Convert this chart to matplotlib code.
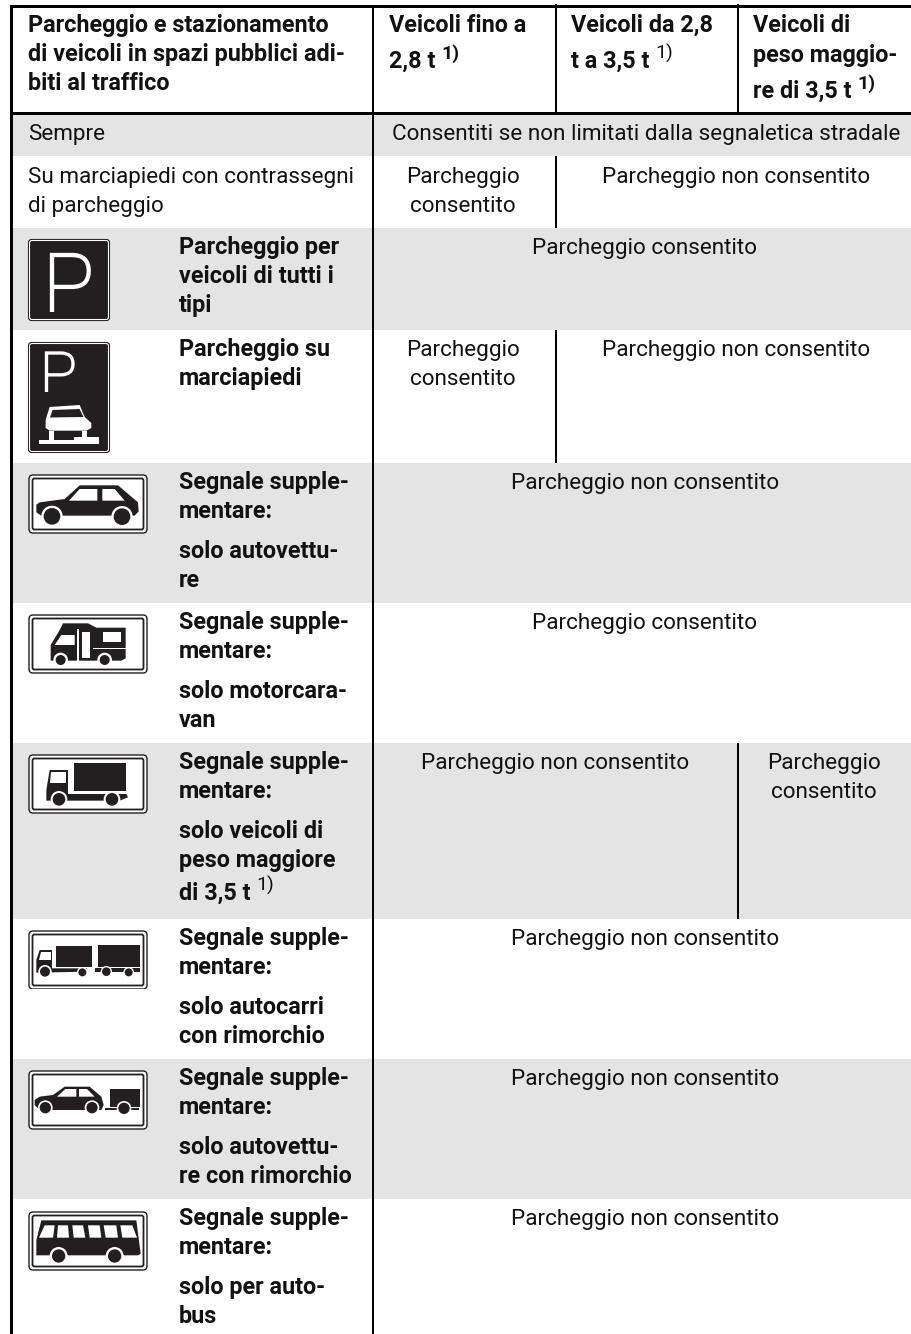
import matplotlib
matplotlib.use("Agg")
import matplotlib.pyplot as plt
from matplotlib.patches import Rectangle, Polygon, Circle, FancyBboxPatch
from matplotlib.path import Path
from matplotlib.patches import PathPatch

plt.rcParams['font.family'] = ['Roboto', 'DejaVu Sans']

BLACK = '#111111'
SIGN = '#231f20'
GREY = '#e4e4e4'
FS = 16.2
FS_BOLD = 16.8
LEAD = 29

# table text
header_main = ["Parcheggio e stazionamento", "di veicoli in spazi pubblici adi-", "biti al traffico"]
header_cols = [["Veicoli fino a", "2,8 t"], ["Veicoli da 2,8", "t a 3,5 t"], ["Veicoli di", "peso maggio-", "re di 3,5 t"]]
header_base = [[32, 68], [32, 68], [32, 62, 98]]
header_sup_bold = [True, False, True]
row_labels = [
    ["Parcheggio per", "veicoli di tutti i", "tipi"],
    ["Parcheggio su", "marciapiedi"],
    ["Segnale supple-", "mentare:", None, "solo autovettu-", "re"],
    ["Segnale supple-", "mentare:", None, "solo motorcara-", "van"],
    ["Segnale supple-", "mentare:", None, "solo veicoli di", "peso maggiore", "di 3,5 t"],
    ["Segnale supple-", "mentare:", None, "solo autocarri", "con rimorchio"],
    ["Segnale supple-", "mentare:", None, "solo autovettu-", "re con rimorchio"],
    ["Segnale supple-", "mentare:", None, "solo per auto-", "bus"],
]
allowed = "Parcheggio consentito"
allowed_2 = ["Parcheggio", "consentito"]
denied = "Parcheggio non consentito"
always_label = "Sempre"
always_text = "Consentiti se non limitati dalla segnaletica stradale"
pavement_label = ["Su marciapiedi con contrassegni", "di parcheggio"]

# row edges in pixels, top to bottom
row_edges = [115, 156, 228, 330, 463, 603, 743, 919, 1059, 1199, 1334]
grey_rows = [0, 2, 4, 6, 8]

fig = plt.figure(figsize=(9.12, 13.34), dpi=100)
ax = fig.add_axes([0, 0, 1, 1])
ax.set_xlim(0, 912)
ax.set_ylim(1334, 0)
ax.axis('off')


def put(x, y, s, bold=False, ha='left', size=None):
    if size is None:
        size = FS_BOLD if bold else FS
    return ax.text(x, y, s, fontsize=size, color=BLACK, ha=ha, va='baseline',
                   fontweight='bold' if bold else 'normal')


def lines(x, y, items, bold=False, ha='left'):
    for i, s in enumerate(items):
        put(x, y + i * LEAD, s, bold=bold, ha=ha)


def sup(t, y, bold):
    # puts the footnote mark right after the text t
    box = t.get_window_extent(fig.canvas.get_renderer())
    x = ax.transData.inverted().transform((box.x1, 0))[0]
    put(x + 6, y - 9, "1)", bold=bold, size=14)


def sign_frame(ox, oy):
    ax.add_patch(FancyBboxPatch((ox + 1, oy + 1), 118, 58, boxstyle="round,pad=0,rounding_size=4",
                                fc='white', ec=SIGN, lw=1.0, zorder=3))
    ax.add_patch(FancyBboxPatch((ox + 4.5, oy + 4.5), 111, 51, boxstyle="round,pad=0,rounding_size=2",
                                fc='white', ec=SIGN, lw=1.3, zorder=3))


def draw(ox, oy, org, black=(), white=(), wheels=()):
    # shapes are noted at 3x scale from org, the sign's top left corner
    def conv(p):
        return [(ox + (a - org[0]) / 3, oy + (b - org[1]) / 3) for a, b in p]
    for p in black:
        ax.add_patch(Polygon(conv(p), fc=SIGN, ec='none', zorder=4))
    for p in white:
        ax.add_patch(Polygon(conv(p), fc='white', ec='none', zorder=5))
    for a, b, r, halo in wheels:
        c = conv([(a, b)])[0]
        ax.add_patch(Circle(c, halo / 3, fc='white', ec='none', zorder=6))
        ax.add_patch(Circle(c, r / 3, fc=SIGN, ec='none', zorder=7))


def p_letter(x0, y0, w, h, lw):
    bowl = h * 0.56
    verts = [(x0, y0 + h), (x0, y0), (x0 + w * 0.55, y0),
             (x0 + w * 1.02, y0), (x0 + w * 1.02, y0 + bowl / 2),
             (x0 + w * 1.02, y0 + bowl), (x0 + w * 0.55, y0 + bowl), (x0, y0 + bowl)]
    codes = [Path.MOVETO, Path.LINETO, Path.LINETO, Path.CURVE3, Path.CURVE3,
             Path.CURVE3, Path.CURVE3, Path.LINETO]
    ax.add_patch(PathPatch(Path(verts, codes), fc='none', ec='white', lw=lw, zorder=6,
                           capstyle='butt', joinstyle='miter'))


# background bands
for r in grey_rows:
    ax.add_patch(Rectangle((13, row_edges[r]), 899, row_edges[r + 1] - row_edges[r], fc=GREY, ec='none', zorder=0))

# rules
ax.add_patch(Rectangle((10, 5), 902, 3, fc='black', ec='none', zorder=2))
ax.add_patch(Rectangle((10, 112), 902, 3, fc='black', ec='none', zorder=2))
ax.add_patch(Rectangle((10, 5), 3, 1329, fc='black', ec='none', zorder=2))
ax.add_patch(Rectangle((372, 5), 2, 1329, fc='black', ec='none', zorder=2))
for x, y0, y1 in [(555, 4, 112), (737, 4, 112), (555, 156, 228), (555, 330, 463), (737, 743, 919)]:
    ax.add_patch(Rectangle((x, y0), 2, y1 - y0, fc='black', ec='none', zorder=2))

# header
for s, y in zip(header_main, [32, 61, 90]):
    put(28, y, s, bold=True)
for x, col, base, sb in zip([389, 571, 753], header_cols, header_base, header_sup_bold):
    for s, y in zip(col, base):
        last = put(x, y, s, bold=True)
    sup(last, base[-1], sb)

# plain rows
put(28, 140, always_label)
put(646, 140, always_text, ha='center')
lines(28, 183, pavement_label)
lines(463, 183, allowed_2, ha='center')
put(736, 183, denied, ha='center')

# rows with a sign
for lab, top in zip(row_labels, row_edges[2:]):
    y = top + 26
    for s in lab:
        if s is None:
            y += 11
            continue
        if s == "di 3,5 t":
            y += 4
        t = put(179, y, s, bold=True)
        if s == "di 3,5 t":
            sup(t, y, False)
        y += LEAD

put(645, 254, allowed, ha='center')
lines(463, 356, allowed_2, ha='center')
put(736, 356, denied, ha='center')
put(645, 489, denied, ha='center')
put(645, 629, allowed, ha='center')
put(555, 769, denied, ha='center')
lines(824, 769, allowed_2, ha='center')
put(645, 945, denied, ha='center')
put(645, 1085, denied, ha='center')
put(645, 1225, denied, ha='center')

# parking signs
ax.add_patch(FancyBboxPatch((28.5, 239.5), 81, 81, boxstyle="round,pad=0,rounding_size=3",
                            fc=SIGN, ec=SIGN, lw=0.8, zorder=3))
ax.add_patch(FancyBboxPatch((29.5, 240.5), 79, 79, boxstyle="round,pad=0,rounding_size=2.5",
                            fc=SIGN, ec='white', lw=0.8, zorder=3))
p_letter(52, 255, 36, 57, 3.1)

ax.add_patch(FancyBboxPatch((28.5, 342.5), 81, 110, boxstyle="round,pad=0,rounding_size=3",
                            fc=SIGN, ec=SIGN, lw=0.8, zorder=3))
ax.add_patch(FancyBboxPatch((29.5, 343.5), 79, 108, boxstyle="round,pad=0,rounding_size=2.5",
                            fc=SIGN, ec='white', lw=0.8, zorder=3))
p_letter(46.5, 353, 26, 39, 2.4)
draw(28, 342, (85, 37),
     white=[[(150, 232), (240, 226), (255, 262), (275, 280), (275, 295), (260, 303), (150, 303), (138, 295), (138, 270)],
            [(148, 303), (163, 303), (163, 330), (148, 330)],
            [(248, 303), (263, 303), (263, 322), (248, 322)],
            [(118, 332), (222, 332), (222, 322), (298, 322), (298, 342), (118, 342)]])
# windscreen of the car on the pavement
ax.add_patch(Polygon([(52.5, 410), (79.5, 409), (83.5, 417), (50, 417.5)], fc=SIGN, ec='none', zorder=6))

# supplementary signs
sign_frame(28, 474)
draw(28, 474, (0, 0),
     black=[[(25, 92), (35, 85), (110, 75), (155, 34), (270, 34), (330, 85), (332, 112), (320, 125), (40, 125), (25, 115)]],
     white=[[(123, 80), (155, 45), (208, 45), (208, 80)], [(223, 45), (260, 45), (290, 80), (223, 80)]],
     wheels=[(72, 127, 25, 32), (282, 128, 25, 32)])

sign_frame(28, 614)
draw(28, 614, (85, 72),
     black=[[(190, 100), (265, 100), (290, 113), (378, 113), (378, 205), (365, 212), (153, 212), (153, 165), (180, 120)]],
     white=[[(165, 165), (185, 135), (225, 135), (225, 165)], [(248, 125), (272, 125), (272, 205), (248, 205)],
            [(310, 127), (365, 127), (365, 155), (310, 155)], [(280, 175), (378, 175), (378, 178), (280, 178)],
            [(233, 118), (238, 118), (238, 212), (233, 212)]],
     wheels=[(183, 210, 15, 22), (315, 210, 15, 22)])

sign_frame(28, 754)
draw(28, 754, (85, 492),
     black=[[(222, 518), (380, 518), (380, 604), (222, 604)],
            [(150, 540), (205, 540), (205, 612), (380, 612), (385, 622), (360, 632), (140, 632), (140, 600)]],
     white=[[(155, 547), (198, 547), (198, 578), (150, 578)]],
     wheels=[(178, 628, 19, 25), (337, 628, 19, 25)])

sign_frame(28, 930)
draw(28, 930, (85, 30),
     black=[[(168, 77), (278, 77), (278, 140), (168, 140)], [(295, 75), (420, 75), (420, 140), (295, 140)],
            [(120, 90), (157, 90), (157, 145), (262, 145), (262, 155), (110, 158), (110, 120)],
            [(285, 145), (422, 145), (422, 155), (285, 155)]],
     white=[[(125, 95), (153, 95), (153, 120), (118, 120)]],
     wheels=[(136, 155, 15, 20), (248, 157, 12, 16), (320, 155, 13, 17), (387, 157, 12, 16)])
# this sign is cut off at the bottom in the scan
ax.add_patch(Rectangle((24, 988.5), 130, 5, fc='white', ec='none', zorder=8))

sign_frame(28, 1070)
draw(28, 1070, (85, 450),
     black=[[(105, 540), (120, 530), (160, 525), (195, 500), (270, 500), (305, 530), (312, 555), (305, 570), (120, 570), (105, 555)],
            [(330, 507), (420, 507), (420, 562), (330, 562)], [(315, 564), (418, 564), (418, 570), (315, 570)]],
     white=[[(172, 530), (197, 507), (230, 507), (230, 530)], [(238, 507), (262, 507), (285, 530), (238, 530)]],
     wheels=[(137, 563, 17, 22), (277, 563, 17, 22), (373, 565, 17, 22)])

sign_frame(28, 1211)
draw(28, 1211, (85, 92),
     black=[[(125, 120), (410, 120), (423, 220), (415, 225), (110, 225), (110, 180)]],
     white=[[(135, 135), (165, 135), (160, 172), (118, 172)], [(175, 135), (205, 135), (208, 172), (172, 172)],
            [(218, 135), (250, 135), (257, 172), (222, 172)], [(265, 135), (300, 135), (305, 172), (270, 172)],
            [(312, 135), (350, 135), (355, 172), (318, 172)], [(362, 135), (398, 135), (412, 172), (368, 172)]],
     wheels=[(177, 227, 20, 27), (345, 227, 20, 27)])

plt.savefig('out.png', dpi=100)
